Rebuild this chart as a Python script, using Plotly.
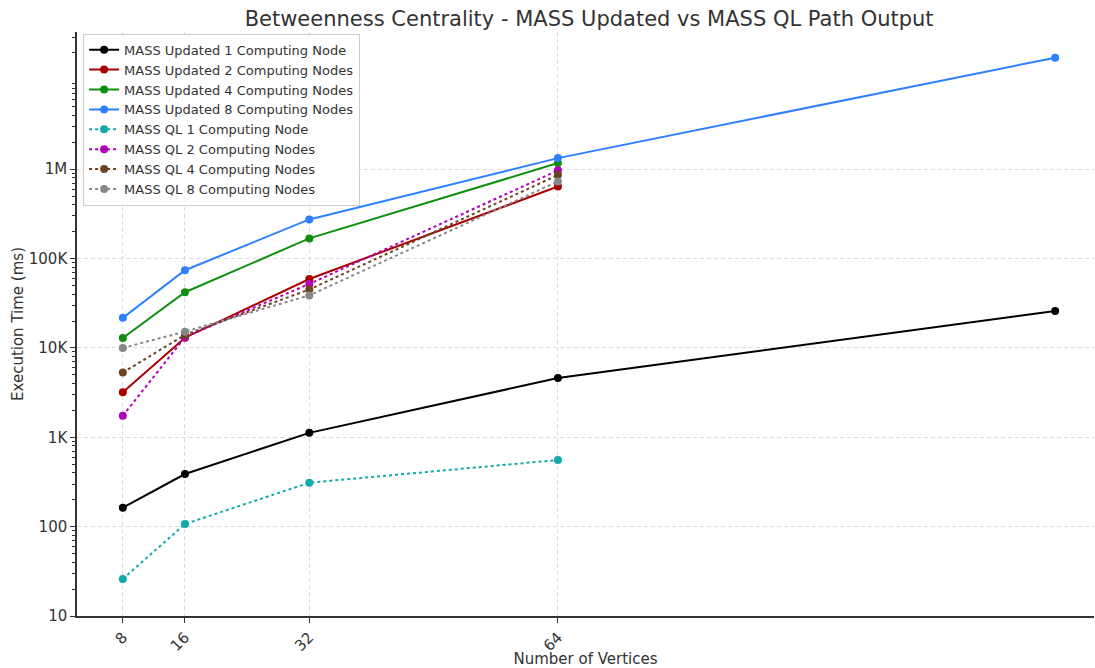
import plotly.graph_objects as go

vertices = [8, 16, 32, 64, 128]
vertices_ql = [8, 16, 32, 64]

upd_1 = [163, 388, 1120, 4600, 25900]
upd_2 = [3200, 13000, 59000, 640000]
upd_4 = [12900, 42000, 168000, 1170000]
upd_8 = [21700, 74000, 274000, 1330000, 17700000]

ql_1 = [26, 107, 310, 557]
ql_2 = [1740, 13200, 52000, 970000]
ql_4 = [5300, 14000, 45000, 860000]
ql_8 = [10000, 15200, 38700, 730000]

x_ticks = [8, 16, 32, 64]
y_tickvals = [10, 100, 1000, 10000, 100000, 1000000]
y_ticktext = ["10", "100", "1K", "10K", "100K", "1M"]

series = [
    ("MASS Updated 1 Computing Node", vertices, upd_1, "#000000", "solid"),
    ("MASS Updated 2 Computing Nodes", vertices_ql, upd_2, "#aa0000", "solid"),
    ("MASS Updated 4 Computing Nodes", vertices_ql, upd_4, "#0f8f0f", "solid"),
    ("MASS Updated 8 Computing Nodes", vertices, upd_8, "#2f80ff", "solid"),
    ("MASS QL 1 Computing Node", vertices_ql, ql_1, "#10aaaa", "dot"),
    ("MASS QL 2 Computing Nodes", vertices_ql, ql_2, "#b000b8", "dot"),
    ("MASS QL 4 Computing Nodes", vertices_ql, ql_4, "#6b4423", "dot"),
    ("MASS QL 8 Computing Nodes", vertices_ql, ql_8, "#888888", "dot"),
]

fig = go.Figure()
for name, xs, ys, color, dash in series:
    fig.add_trace(go.Scatter(
        x=xs, y=ys, name=name, mode="lines+markers",
        line=dict(color=color, width=2, dash=dash),
        marker=dict(color=color, size=8),
    ))

minor_vals = []
for e in range(1, 8):
    for d in range(2, 10):
        minor_vals.append(d * 10 ** e)

font_family = "DejaVu Sans, sans-serif"
fig.update_layout(
    width=1095, height=668,
    margin=dict(l=77, r=1, t=32, b=52, autoexpand=False),
    paper_bgcolor="white", plot_bgcolor="white",
    font=dict(family=font_family, color="#333333"),
    title=dict(text="Betweenness Centrality - MASS Updated vs MASS QL Path Output",
               x=0.538, xanchor="center", y=0.972, yanchor="middle",
               font=dict(size=21, color="#333333")),
    legend=dict(x=0.006, y=0.997, xanchor="left", yanchor="top",
                bgcolor="rgba(255,255,255,0.85)", bordercolor="#cccccc", borderwidth=1,
                font=dict(size=13, color="#333333"), tracegroupgap=0, itemwidth=30),
    showlegend=True,
)
fig.update_xaxes(
    range=[2.1, 133], tickmode="array", tickvals=x_ticks, ticktext=[str(v) for v in x_ticks],
    tickangle=-45, tickfont=dict(size=15), automargin=False,
    showgrid=True, gridcolor="#dcdcdc", griddash="4px,3px", gridwidth=1,
    showline=True, linecolor="#333333", linewidth=1.5,
    ticks="outside", ticklen=5, tickcolor="#333333", zeroline=False,
    title=dict(text="Number of Vertices", font=dict(size=15), standoff=7),
)
fig.update_yaxes(
    type="log", range=[1, 7.535], tickmode="array", tickvals=y_tickvals, ticktext=y_ticktext,
    tickfont=dict(size=15), automargin=False,
    showgrid=True, gridcolor="#dcdcdc", griddash="4px,3px", gridwidth=1,
    showline=True, linecolor="#333333", linewidth=1.5,
    ticks="outside", ticklen=5, tickcolor="#333333", zeroline=False,
    minor=dict(tickmode="array", tickvals=minor_vals, ticks="outside", ticklen=3,
               tickcolor="#333333", showgrid=False),
    title=dict(text="Execution Time (ms)", font=dict(size=15), standoff=2),
)

fig.write_html("out.html")
